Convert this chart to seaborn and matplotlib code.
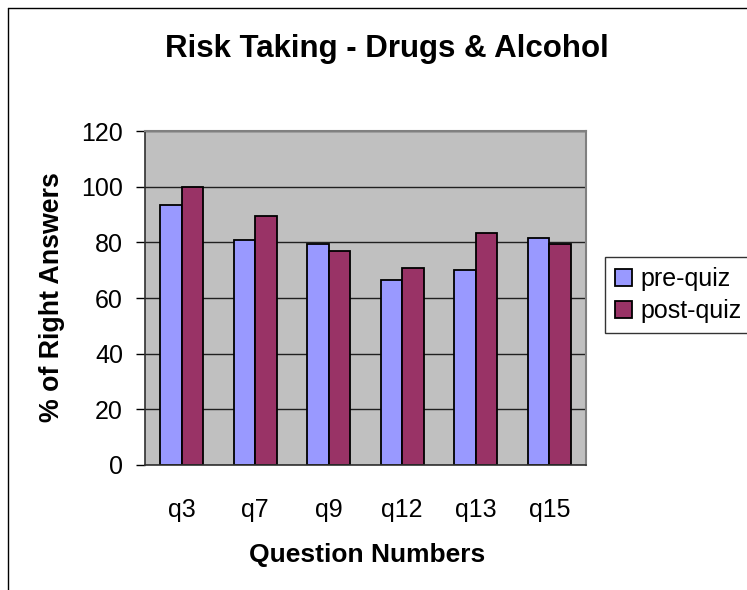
import matplotlib
matplotlib.use('Agg')
import matplotlib.pyplot as plt
import seaborn as sns
import pandas as pd
import numpy as np
from matplotlib.lines import Line2D

questions = ['q3', 'q7', 'q9', 'q12', 'q13', 'q15']
pre_quiz = [93.5, 81.0, 79.3, 66.6, 70.1, 81.7]
post_quiz = [100.0, 89.6, 77.0, 70.7, 83.2, 79.3]
series = ['pre-quiz', 'post-quiz']
colors = ['#9999FF', '#993366']
y_ticks = [0, 20, 40, 60, 80, 100, 120]

df = pd.DataFrame({
    'Question': questions * 2,
    'Value': pre_quiz + post_quiz,
    'Series': [series[0]] * len(questions) + [series[1]] * len(questions),
})

sns.set_style('white')
plt.rcParams['font.family'] = ['Liberation Sans', 'DejaVu Sans']
plt.rcParams['text.color'] = 'black'
plt.rcParams['axes.labelcolor'] = 'black'
plt.rcParams['xtick.color'] = 'black'
plt.rcParams['ytick.color'] = 'black'

fig = plt.figure(figsize=(7.47, 5.9), dpi=100)
ax = fig.add_axes([145 / 747, 1 - 465 / 590, 441 / 747, 334 / 590])

sns.barplot(data=df, x='Question', y='Value', hue='Series', order=questions,
            hue_order=series, palette=colors, width=0.585, gap=0,
            saturation=1, edgecolor='black', linewidth=1.3, ax=ax)

ax.set_facecolor('#C0C0C0')
ax.set_ylim(0, 120)
ax.set_xlim(-0.5, len(questions) - 0.5)
ax.set_yticks(y_ticks)
ax.set_axisbelow(True)
ax.yaxis.grid(True, color='#202020', lw=1)
ax.xaxis.grid(False)

ax.set_xticks(np.arange(-0.5, len(questions), 1), minor=True)
ax.tick_params(axis='x', which='major', length=0, pad=24, labelsize=18)
ax.tick_params(axis='x', which='minor', length=6, width=1, color='black', direction='out')
ax.tick_params(axis='y', which='major', length=6.5, width=1, color='black',
               direction='out', pad=9.4, labelsize=18, left=True)

for s in ['top', 'right']:
    ax.spines[s].set_color('#808080')
    ax.spines[s].set_linewidth(1.5)
for s in ['left', 'bottom']:
    ax.spines[s].set_color('#303030')
    ax.spines[s].set_linewidth(1.2)

ax.set_xlabel('Question Numbers', fontsize=19, fontweight='bold', va='center')
ax.xaxis.set_label_coords((367 - 145) / 441, (465 - 555) / 334)
ax.set_ylabel('% of Right Answers', fontsize=19.3, fontweight='bold', va='center')
ax.yaxis.set_label_coords((52 - 145) / 441, (465 - 297) / 334)

ax.set_title('Risk Taking - Drugs & Alcohol', fontsize=22.5, fontweight='bold',
             x=(387 - 145) / 441, y=(465 - 48.5) / 334, va='center', pad=0)

handles, labels = ax.get_legend_handles_labels()
if ax.get_legend() is not None:
    ax.get_legend().remove()
leg = fig.legend(handles, labels, loc='upper left',
                 bbox_to_anchor=(605 / 747, 1 - 257 / 590), borderaxespad=0,
                 fontsize=18, frameon=True, fancybox=False, edgecolor='black',
                 borderpad=0.4, handlelength=0.68, handleheight=0.68,
                 handletextpad=0.32, labelspacing=0.32)
leg.get_frame().set_linewidth(1)

fig.add_artist(Line2D([8 / 747, 8 / 747], [0, 1 - 8 / 590], transform=fig.transFigure,
                      color='black', lw=1))
fig.add_artist(Line2D([8 / 747, 1], [1 - 8 / 590, 1 - 8 / 590], transform=fig.transFigure,
                      color='black', lw=1))

fig.savefig('out.png', dpi=100)
